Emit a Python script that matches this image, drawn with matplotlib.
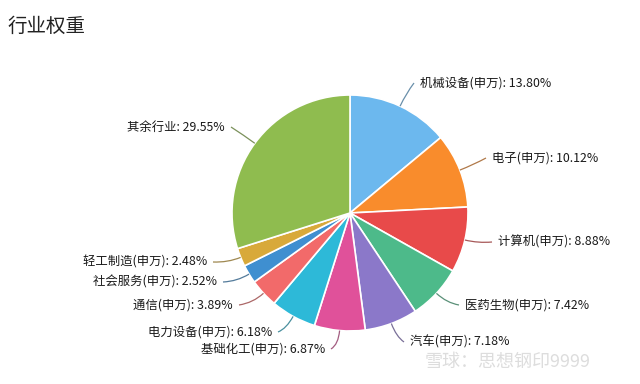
import numpy as np
import matplotlib
matplotlib.use("Agg")
import matplotlib.pyplot as plt
from matplotlib.path import Path
from matplotlib.patches import PathPatch
from matplotlib.colors import to_rgb

plt.rcParams['font.family'] = ['Noto Sans CJK SC', 'DejaVu Sans']

categories = ["机械设备(申万)", "电子(申万)", "计算机(申万)", "医药生物(申万)", "汽车(申万)",
              "基础化工(申万)", "电力设备(申万)", "通信(申万)", "社会服务(申万)", "轻工制造(申万)", "其余行业"]
values = [13.80, 10.12, 8.88, 7.42, 7.18, 6.87, 6.18, 3.89, 2.52, 2.48, 29.55]
colors = ["#6cb8ee", "#f98c2c", "#e84a4a", "#4dba8a", "#8b78c9", "#e0519a",
          "#2db9d8", "#f26a6a", "#3f8fd0", "#d8a93a", "#8fbc4f"]

# label anchor positions (pixel coords, y from top) and side
label_pos = [(420, 83, 'l'), (492, 158, 'l'), (498, 242, 'l'), (465, 305, 'l'), (410, 342, 'l'),
             (325, 349, 'r'), (272, 332, 'r'), (233, 305, 'r'), (217, 282, 'r'), (207, 262, 'r'),
             (225, 127, 'r')]

W, H = 640, 384
fig = plt.figure(figsize=(6.4, 3.84), dpi=100)
ax = fig.add_axes([0, 0, 1, 1])

cx, cy, R = 350, H - 213, 118
wedges, _ = ax.pie(values, colors=colors, startangle=90, counterclock=False,
                   center=(cx, cy), radius=R, frame=True,
                   wedgeprops=dict(edgecolor='white', linewidth=1.2))
ax.set_xlim(0, W)
ax.set_ylim(0, H)
ax.set_aspect('equal')
ax.axis('off')

gray = np.array(to_rgb("#666666"))
for w, cat, val, col, (tx, ty, side) in zip(wedges, categories, values, colors, label_pos):
    ang = np.deg2rad((w.theta1 + w.theta2) / 2)
    p0 = (cx + R * np.cos(ang), cy + R * np.sin(ang))
    p1 = (cx + (R + 14) * np.cos(ang), cy + (R + 14) * np.sin(ang))
    ty_d = H - ty
    if side == 'l':
        p2 = (tx - 6, ty_d)
        ha = 'left'
    else:
        p2 = (tx + 6, ty_d)
        ha = 'right'
    lc = 0.5 * np.array(to_rgb(col)) + 0.5 * gray
    path = Path([p0, p1, p2], [Path.MOVETO, Path.CURVE3, Path.CURVE3])
    ax.add_patch(PathPatch(path, facecolor='none', edgecolor=lc, lw=0.9))
    ax.text(tx, ty_d, f"{cat}: {val:.2f}%", ha=ha, va='center', fontsize=8.9,
            fontweight='medium', color='#1a1a1a')

ax.text(7, H - 26, "行业权重", ha='left', va='center', fontsize=14, color='#222222')
ax.text(425, H - 362, "雪球：思想钢印9999", ha='left', va='center', fontsize=13, color='#dddddd')

fig.savefig("out.png", dpi=100)
